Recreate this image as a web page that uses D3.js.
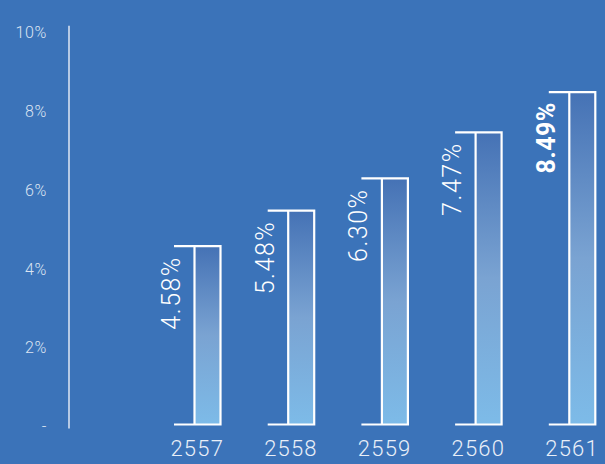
<!DOCTYPE html>
<html>
<head>
<meta charset="utf-8">
<script src="https://cdn.jsdelivr.net/npm/d3@7"></script>
<style>
    html, body { margin: 0; padding: 0; background: #3b73b9; }
    #chart { width: 605px; height: 464px; }
    text { font-family: Roboto, "DejaVu Sans", sans-serif; }
</style>
</head>
<body>
<div id="chart"></div>
<script>
// data
const years = ["2557", "2558", "2559", "2560", "2561"];
const values = [4.58, 5.48, 6.30, 7.47, 8.49];
const yTicks = [0, 2, 4, 6, 8, 10];
const highlightYear = "2561";

const width = 605, height = 464;

const svg = d3.select("#chart").append("svg")
    .attr("width", width)
    .attr("height", height);

svg.append("rect")
    .attr("width", width)
    .attr("height", height)
    .attr("fill", "#3b73b9");

// gradient for bar fill (dark at top, light at bottom)
const grad = svg.append("defs").append("linearGradient")
    .attr("id", "barGrad")
    .attr("x1", "0").attr("y1", "0")
    .attr("x2", "0").attr("y2", "1");
grad.append("stop").attr("offset", "0%").attr("stop-color", "#4572b5");
grad.append("stop").attr("offset", "50%").attr("stop-color", "#7aa3d2");
grad.append("stop").attr("offset", "100%").attr("stop-color", "#7dbbe8");

// scales
const x = d3.scaleBand()
    .domain(years)
    .range([174, 174 + years.length * 93.7]);

const y = d3.scaleLinear()
    .domain([0, 10])
    .range([426.5, 32.7]);

const groupW = 46.5;   // tab + column
const tabW = 20.5;     // left tab before the column

// y axis
const yAxis = d3.axisLeft(y)
    .tickValues(yTicks)
    .tickSize(0)
    .tickPadding(22)
    .tickFormat(d => d === 0 ? "-" : d + "%");

const axisG = svg.append("g")
    .attr("transform", "translate(69,0)")
    .call(yAxis);

axisG.select(".domain").remove();
axisG.selectAll("text")
    .attr("fill", "#dbe4f2")
    .style("font-size", "16px")
    .style("font-weight", 300)
    .style("letter-spacing", "0.6px");

axisG.append("line")
    .attr("y1", y(10) - 7)
    .attr("y2", y(0) + 2)
    .attr("stroke", "#d6e0f0")
    .attr("stroke-width", 1.6);

// bars
const data = years.map((yr, i) => ({ year: yr, value: values[i] }));
const bottom = y(0) - 2;

const groups = svg.selectAll(".bar")
    .data(data)
    .enter().append("g")
    .attr("class", "bar")
    .attr("transform", d => `translate(${x(d.year)},0)`);

groups.append("rect")
    .attr("x", tabW)
    .attr("y", d => y(d.value))
    .attr("width", groupW - tabW)
    .attr("height", d => bottom - y(d.value))
    .attr("fill", "url(#barGrad)");

groups.append("path")
    .attr("d", d => {
        let top = y(d.value);
        return `M0,${top}H${groupW}V${bottom}H0M${tabW},${top}V${bottom}`;
    })
    .attr("fill", "none")
    .attr("stroke", "#ffffff")
    .attr("stroke-width", 2.2);

// rotated value labels
groups.append("text")
    .attr("transform", d => `translate(6,${y(d.value) + 10}) rotate(-90)`)
    .attr("text-anchor", "end")
    .attr("fill", "#ffffff")
    .style("font-size", "25px")
    .style("font-weight", d => d.year === highlightYear ? 700 : 300)
    .style("letter-spacing", d => d.year === highlightYear ? "0.5px" : "1.5px")
    .text(d => d.value.toFixed(2) + "%");

// year labels
groups.append("text")
    .attr("x", groupW / 2)
    .attr("y", 456)
    .attr("text-anchor", "middle")
    .attr("fill", "#e9eff8")
    .style("font-size", "22px")
    .style("font-weight", 300)
    .style("letter-spacing", "1.2px")
    .text(d => d.year);
</script>
</body>
</html>
